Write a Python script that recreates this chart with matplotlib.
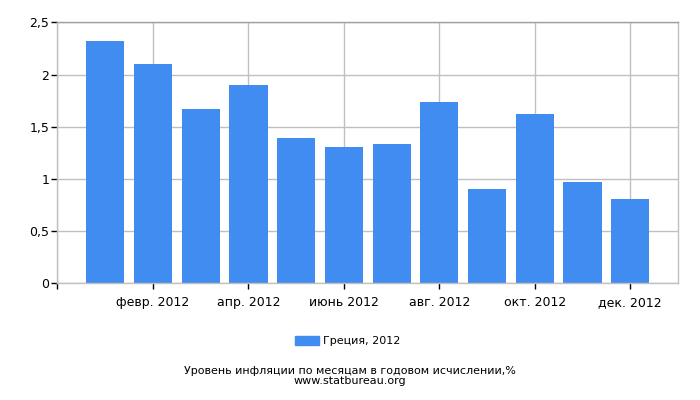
import matplotlib
matplotlib.use("Agg")
import matplotlib.pyplot as plt
from matplotlib.patches import Patch

months = ["янв. 2012", "февр. 2012", "март 2012", "апр. 2012", "май 2012", "июнь 2012",
          "июль 2012", "авг. 2012", "сент. 2012", "окт. 2012", "нояб. 2012", "дек. 2012"]
values = [2.32, 2.10, 1.67, 1.90, 1.39, 1.31, 1.33, 1.74, 0.90, 1.62, 0.97, 0.81]
series_name = "Греция, 2012"
yticks = [0, 0.5, 1, 1.5, 2, 2.5]
ytick_labels = ["0", "0,5", "1", "1,5", "2", "2,5"]
title = "Уровень инфляции по месяцам в годовом исчислении,%\nwww.statbureau.org"

color = "#418cf0"
grid_c = "#c0c0c0"

fig = plt.figure(figsize=(7, 4), dpi=100)
ax = fig.add_axes([0.0821, 0.2918, 0.8865, 0.6524])
x = list(range(len(values)))
ax.bar(x, values, width=0.8, color=color, zorder=2)

ax.set_xlim(-1, len(values))
ax.set_ylim(0, 2.5)
ax.set_yticks(yticks)
ax.set_yticklabels(ytick_labels, fontsize=9)
xt = [-1] + x[1::2]
ax.set_xticks(xt)
ax.set_xticklabels([""] + months[1::2], fontsize=9)
ax.tick_params(axis="both", length=4, color="black", width=1)
ax.tick_params(axis="x", pad=5)
ax.tick_params(axis="y", pad=2)
ax.grid(True, color=grid_c, linewidth=1, zorder=0)
for s in ax.spines.values():
    s.set_color(grid_c)
    s.set_linewidth(1)
ax.spines["top"].set_color("#a0a0a0")

fig.legend(handles=[Patch(color=color, label=series_name)], loc="center",
           bbox_to_anchor=(0.497, 0.148), frameon=False, fontsize=8,
           handlelength=2.1, handleheight=0.9, handletextpad=0.4)
fig.text(0.5, 0.06, title, ha="center", va="center", fontsize=8, linespacing=0.95)

fig.savefig("out.png", dpi=100)
